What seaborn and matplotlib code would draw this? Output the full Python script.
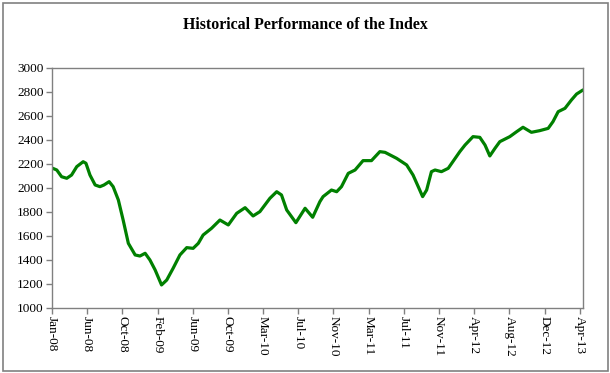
import numpy as np
import pandas as pd
import matplotlib
matplotlib.use('Agg')
import matplotlib.pyplot as plt
from matplotlib.patches import Rectangle
import seaborn as sns

sns.set_style('white')
plt.rcParams['font.family'] = ['Liberation Serif', 'DejaVu Serif']
plt.rcParams['text.color'] = 'black'
plt.rcParams['xtick.color'] = 'black'
plt.rcParams['ytick.color'] = 'black'

#trading day number (0 = first day of Jan-08) and index level
day = [2, 12, 24, 37, 49, 62, 78, 85, 95, 108, 120, 130, 143, 153, 166, 178, 191,
       208, 220, 233, 245, 258, 274, 287, 303, 320, 337, 353, 366, 378, 399, 420,
       441, 462, 483, 503, 520, 545, 562, 574, 587, 610, 633, 652, 670, 678, 699,
       712, 724, 741, 758, 778, 799, 820, 833, 862, 887, 903, 916, 927, 937, 949,
       958, 974, 991, 1020, 1033, 1053, 1070, 1083, 1095, 1108, 1120, 1145, 1162,
       1178, 1199, 1220, 1241, 1253, 1266, 1283, 1299, 1312, 1328]
level = [2164, 2150, 2094, 2081, 2108, 2178, 2219, 2206, 2108, 2025, 2011, 2025,
         2053, 2011, 1900, 1733, 1539, 1442, 1433, 1456, 1400, 1317, 1192, 1233,
         1331, 1442, 1503, 1497, 1539, 1608, 1664, 1733, 1692, 1789, 1836, 1767,
         1803, 1914, 1969, 1942, 1817, 1711, 1831, 1756, 1886, 1928, 1983, 1969,
         2011, 2122, 2150, 2228, 2228, 2303, 2297, 2247, 2192, 2108, 2011, 1928,
         1983, 2136, 2150, 2136, 2164, 2303, 2358, 2428, 2422, 2358, 2267, 2331,
         2386, 2428, 2469, 2506, 2464, 2478, 2497, 2553, 2636, 2664, 2733, 2783,
         2817]

#category axis labels, one every 88 trading days
tickLabels = ['Jan-08', 'Jun-08', 'Oct-08', 'Feb-09', 'Jun-09', 'Oct-09', 'Mar-10',
              'Jul-10', 'Nov-10', 'Mar-11', 'Jul-11', 'Nov-11', 'Apr-12', 'Aug-12',
              'Dec-12', 'Apr-13']
tickStep = 88
yTicks = list(range(1000, 3001, 200))

indexDF = pd.DataFrame({'day': day, 'level': level})

fig = plt.figure(figsize=(6.1, 3.73), dpi=100)
#grey frame round the whole chart, a couple of pixels in from the edge
fig.patches.append(Rectangle((2.5 / 610, 2.5 / 373), 1 - 5 / 610, 1 - 5 / 373,
                             transform=fig.transFigure, fill=False,
                             edgecolor='#808080', linewidth=1.2))
ax = fig.add_axes([0.0852, 0.1743, 0.8705, 0.6434])

sns.lineplot(x='day', y='level', data=indexDF, ax=ax, color='#008000', linewidth=2.3)

ax.set_xlim(0, 1328)
ax.set_ylim(1000, 3000)
ax.set_yticks(yTicks)
ax.set_yticklabels([str(v) for v in yTicks], fontsize=9.5)
ax.set_xticks([i * tickStep for i in range(len(tickLabels))])
ax.set_xticklabels(tickLabels, rotation=270, fontsize=9.5)
ax.set_xlabel('')
ax.set_ylabel('')
ax.tick_params(axis='both', which='major', direction='out', length=4, width=1,
               color='#808080', labelcolor='black', pad=2, bottom=True, left=True)

for side in ['left', 'bottom', 'top', 'right']:
    ax.spines[side].set_color('#808080')
    ax.spines[side].set_linewidth(1)

fig.suptitle('Historical Performance of the Index', y=0.955, fontsize=11.4,
             fontweight='bold', color='black')

fig.savefig('out.png', dpi=100)
plt.close()
